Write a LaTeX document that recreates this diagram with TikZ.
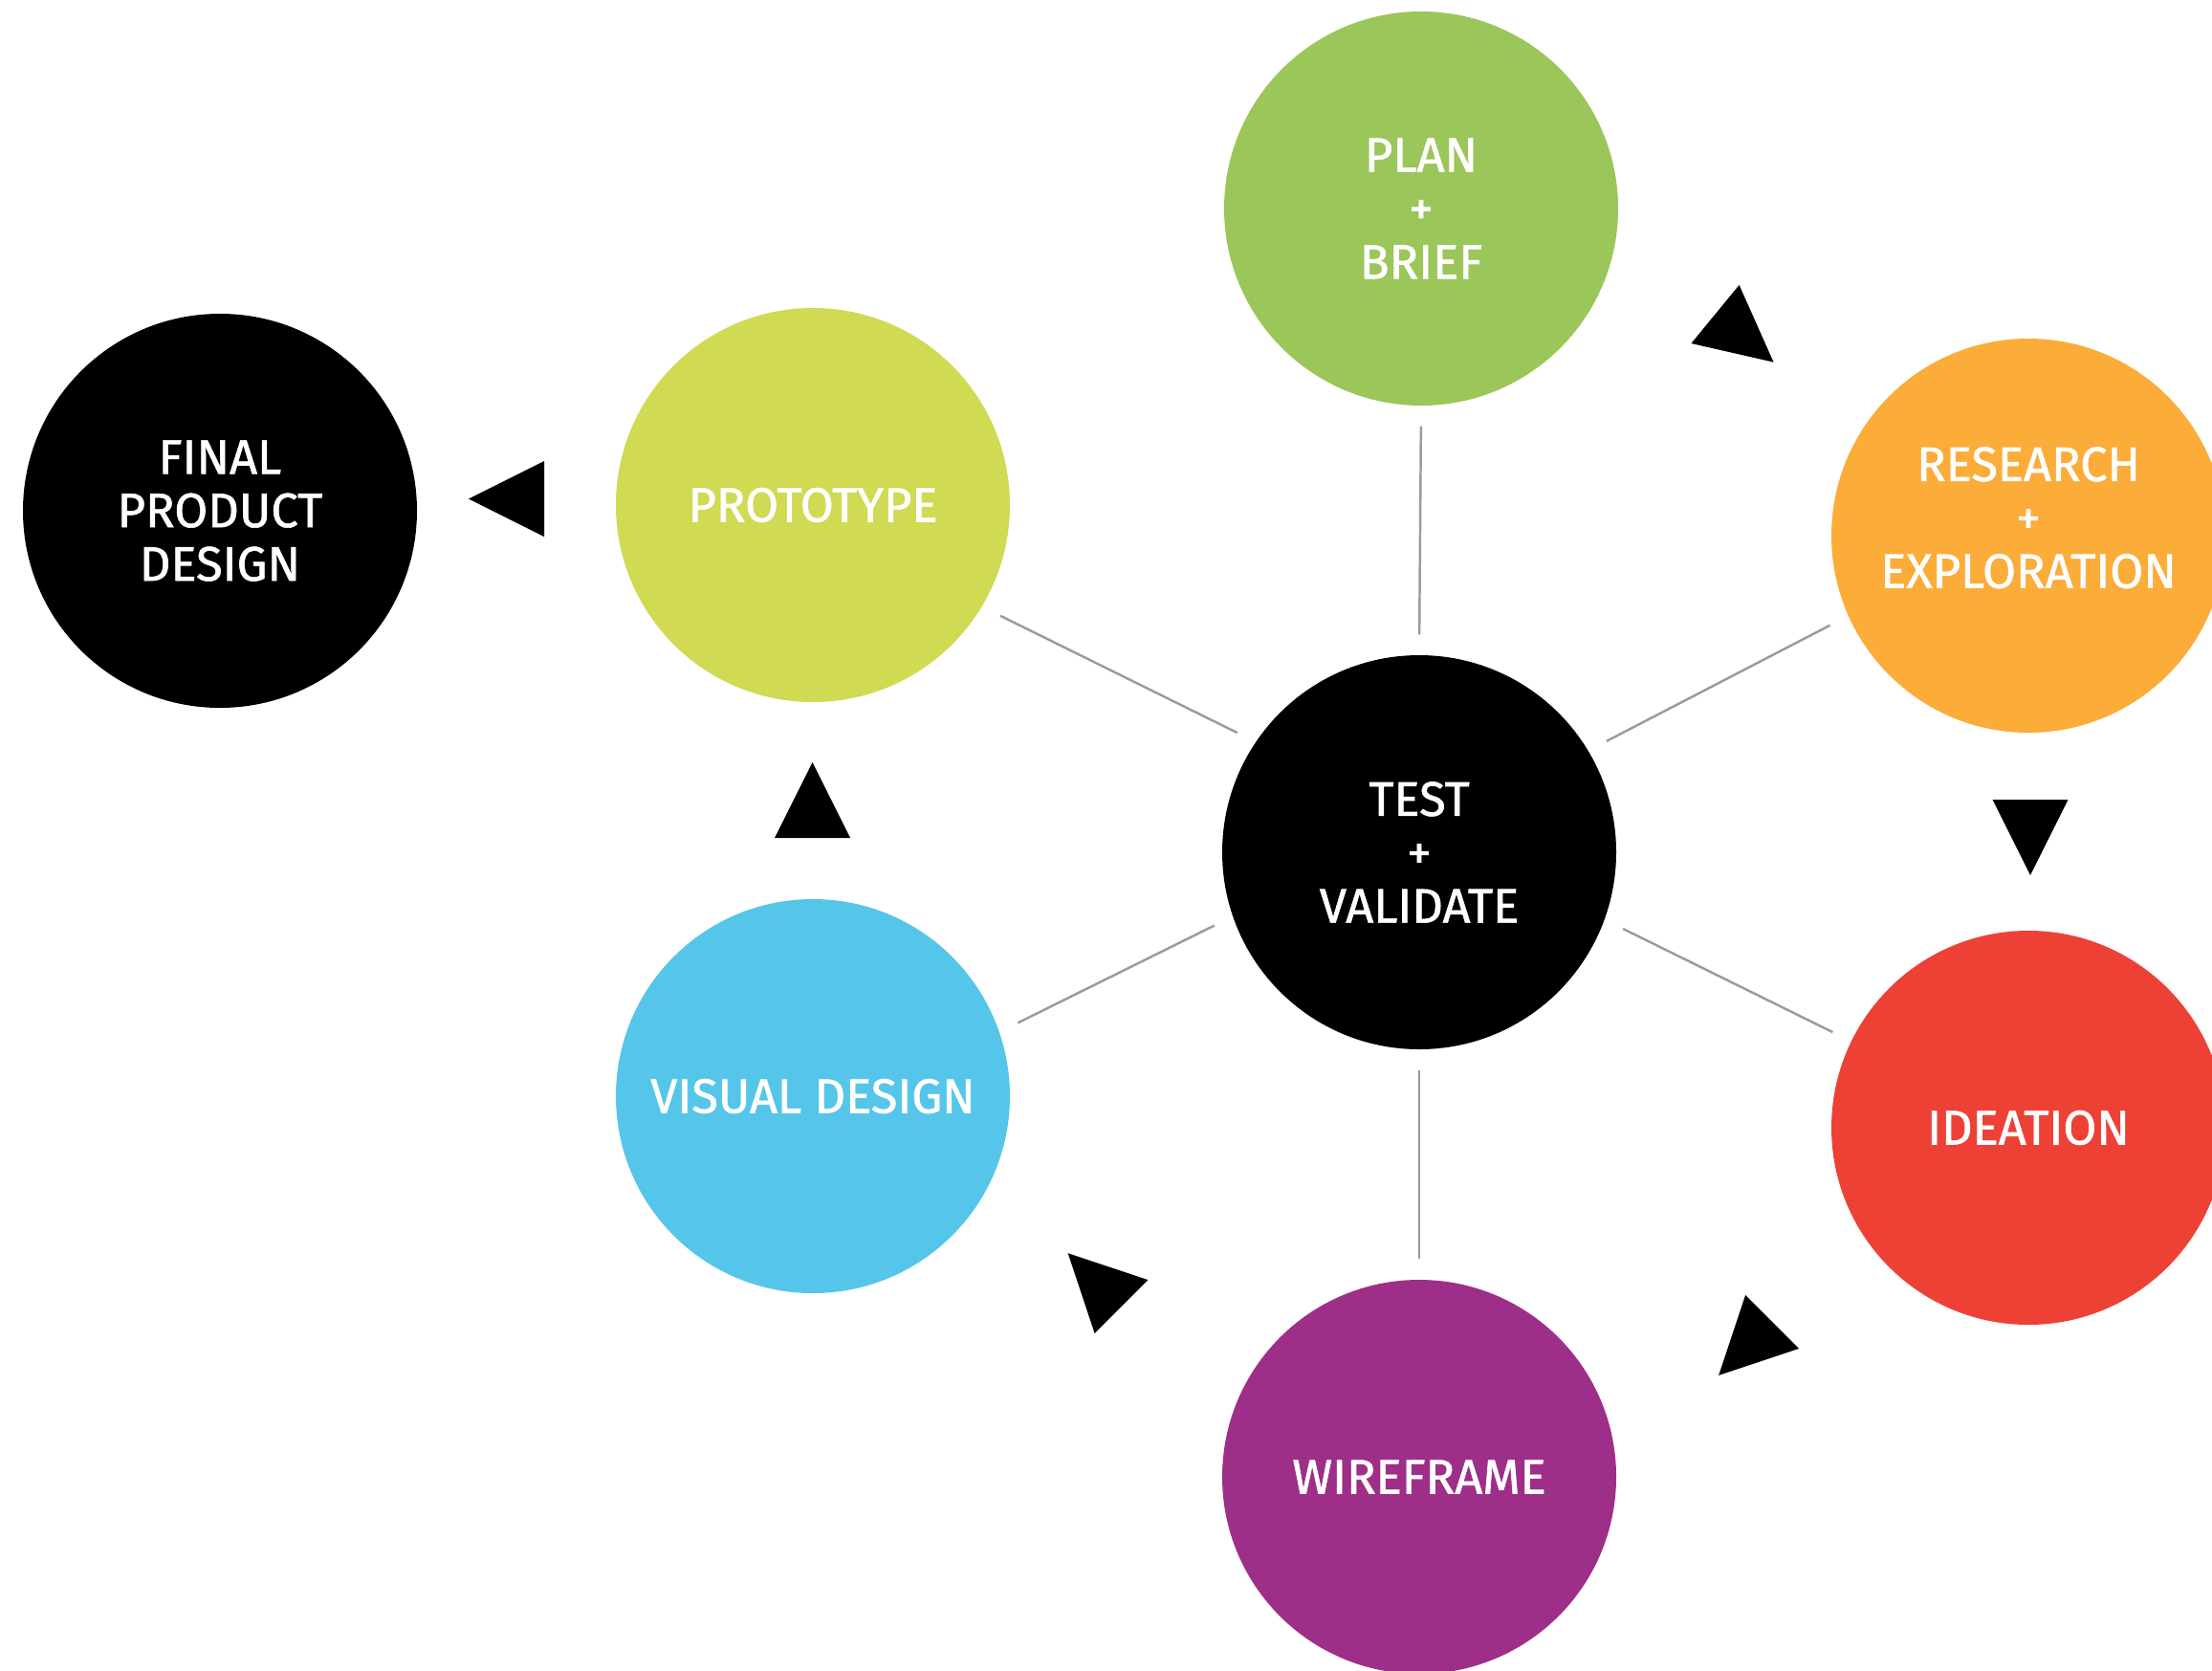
\documentclass[tikz,border=0pt]{standalone}
\usepackage{fontspec}
\setmainfont{Fira Sans}[FakeBold=1.2]
\definecolor{stageGreen}{RGB}{155,198,89}
\definecolor{stageLime}{RGB}{208,218,82}
\definecolor{stageOrange}{RGB}{251,172,57}
\definecolor{stageRed}{RGB}{238,65,54}
\definecolor{stagePurple}{RGB}{158,47,136}
\definecolor{stageBlue}{RGB}{85,198,233}
\definecolor{spokeGray}{RGB}{155,155,155}
\usepackage{tikz}
\usetikzlibrary{positioning}

\begin{document}
\begin{tikzpicture}[
    stage/.style={circle, minimum size=41.2mm, inner sep=0pt, text=white,
                  align=center, font=\fontsize{14.4}{15.9}\selectfont},
    spoke/.style={draw=spokeGray, line width=0.7pt,
                  shorten >=2.1mm, shorten <=2.1mm},
    cue/.style={fill=black}
  ]
  \path[use as bounding box, clip] (0,0) rectangle (23.13,-17.46);

  % hub and the stages around it
  \node[stage, fill=black]       (test)     at (14.84,-8.91)  {TEST\\+\\VALIDATE};
  \node[stage, fill=stageGreen]  (plan)     at (14.86,-2.18)  {PLAN\\+\\BRIEF};
  \node[stage, fill=stageOrange, text depth=3.8mm]
                                 (research) at (21.21,-5.60)  {RESEARCH\\+\\EXPLORATION};
  \node[stage, fill=stageRed]    (ideation) at (21.21,-11.79) {IDEATION};
  \node[stage, fill=stagePurple] (wire)     at (14.84,-15.44) {WIREFRAME};
  \node[stage, fill=stageBlue]   (visual)   at (8.50,-11.46)  {VISUAL DESIGN};
  \node[stage, fill=stageLime]   (proto)    at (8.50,-5.28)   {PROTOTYPE};
  \node[stage, fill=black]       (final)    at (2.30,-5.34)   {FINAL\\PRODUCT\\DESIGN};

  % spokes
  \draw[spoke] (plan.south) -- (test.north);
  \draw[spoke] (test.31)    -- (research.204);
  \draw[spoke] (test.-20)   -- (ideation.154);
  \draw[spoke] (test.south) -- (wire.north);
  \draw[spoke] (test.199)   -- (visual.19);
  \draw[spoke] (test.146)   -- (proto.-31);

  % flow markers: base midpoint / heading
  \foreach \x/\y/\a in {17.935/-3.285/-39.4, 21.23/-8.36/-90, 18.53/-13.82/225,
                        11.725/-13.66/135, 8.495/-8.76/90, 5.69/-5.215/180}
    \fill[cue, shift={(\x,\y)}, rotate=\a] (0,0.395) -- (0.79,0) -- (0,-0.395) -- cycle;
\end{tikzpicture}
\end{document}
